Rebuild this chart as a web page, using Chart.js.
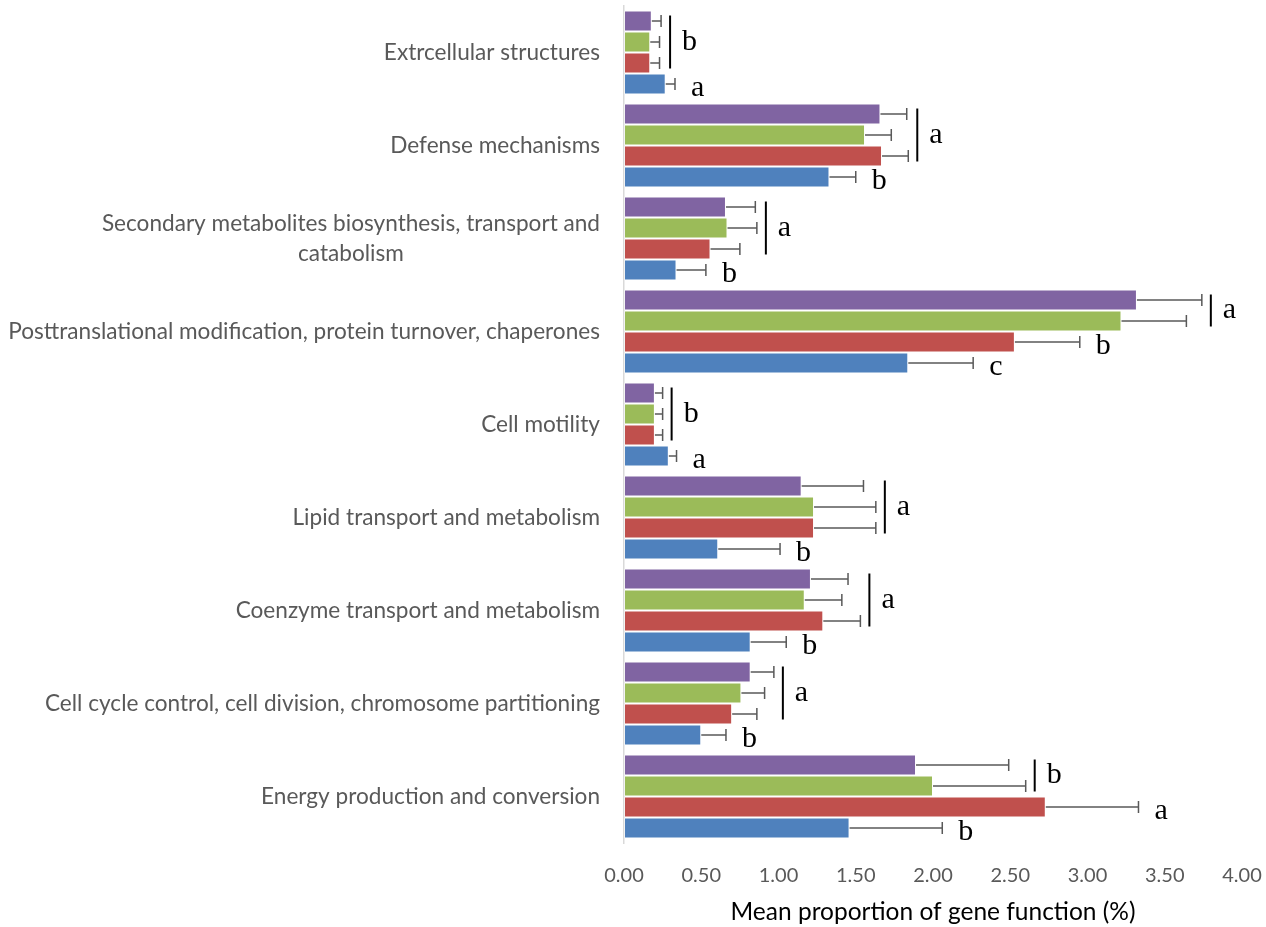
<!DOCTYPE html>
<html>
<head>
<meta charset="utf-8">
<script src="https://cdn.jsdelivr.net/npm/chart.js@4/dist/chart.umd.min.js"></script>
<style>
  html, body { margin: 0; padding: 0; background: #ffffff; }
  #wrap { width: 1266px; height: 927px; position: relative; }
</style>
</head>
<body>
<div id="wrap"><canvas id="chart" width="1266" height="927"></canvas></div>
<script>
// COG functional categories, listed top to bottom
const categories = [
  'Extrcellular structures',
  'Defense mechanisms',
  ['Secondary metabolites biosynthesis, transport and', 'catabolism'],
  'Posttranslational modification, protein turnover, chaperones',
  'Cell motility',
  'Lipid transport and metabolism',
  'Coenzyme transport and metabolism',
  'Cell cycle control, cell division, chromosome partitioning',
  'Energy production and conversion'
];

const xTicks = [0, 0.5, 1, 1.5, 2, 2.5, 3, 3.5, 4];

// Mean proportion (%) per group
const meanT1 = [0.27, 1.33, 0.34, 1.84, 0.29, 0.61, 0.82, 0.50, 1.46];
const meanT2 = [0.17, 1.67, 0.56, 2.53, 0.20, 1.23, 1.29, 0.70, 2.73];
const meanT3 = [0.17, 1.56, 0.67, 3.22, 0.20, 1.23, 1.17, 0.76, 2.00];
const meanT4 = [0.18, 1.66, 0.66, 3.32, 0.20, 1.15, 1.21, 0.82, 1.89];

// Error (+) per group
const errT1 = [0.06, 0.17, 0.19, 0.42, 0.05, 0.40, 0.23, 0.16, 0.60];
const errT2 = [0.06, 0.17, 0.19, 0.42, 0.05, 0.40, 0.24, 0.16, 0.60];
const errT3 = [0.06, 0.17, 0.19, 0.42, 0.05, 0.40, 0.24, 0.15, 0.60];
const errT4 = [0.06, 0.17, 0.19, 0.42, 0.05, 0.40, 0.24, 0.15, 0.60];

// Significance letters per group
const lettersT1 = ['a', 'b', 'b', 'c', 'a', 'b', 'b', 'b', 'b'];
const lettersT2 = ['b', 'a', 'a', 'b', 'b', 'a', 'a', 'a', 'a'];
const lettersT3 = ['b', 'a', 'a', 'a', 'b', 'a', 'a', 'a', 'b'];
const lettersT4 = ['b', 'a', 'a', 'a', 'b', 'a', 'a', 'a', 'b'];

const axisTitle = 'Mean proportion of gene function (%)';

// Drawn top to bottom inside each category
const groups = [
  { label: 'T4', mean: meanT4, err: errT4, letters: lettersT4, color: '#8064A2' },
  { label: 'T3', mean: meanT3, err: errT3, letters: lettersT3, color: '#9BBB59' },
  { label: 'T2', mean: meanT2, err: errT2, letters: lettersT2, color: '#C0504D' },
  { label: 'T1', mean: meanT1, err: errT1, letters: lettersT1, color: '#4F81BD' }
];

const LABEL_FONT = 'Lato';
const LETTER_FONT = '"Liberation Serif", "Times New Roman", serif';

// Horizontal error bars with an end cap
const errorBars = {
  id: 'errorBars',
  afterDatasetsDraw(chart) {
    const { ctx, scales: { x } } = chart;
    ctx.save();
    ctx.strokeStyle = '#595959';
    ctx.lineWidth = 1.5;
    chart.data.datasets.forEach((ds, di) => {
      const meta = chart.getDatasetMeta(di);
      meta.data.forEach((bar, i) => {
        const end = x.getPixelForValue(ds.data[i] + ds.errors[i]);
        ctx.beginPath();
        ctx.moveTo(bar.x, bar.y);
        ctx.lineTo(end, bar.y);
        ctx.moveTo(end, bar.y - 6);
        ctx.lineTo(end, bar.y + 6);
        ctx.stroke();
      });
    });
    ctx.restore();
  }
};

// Significance letters; adjacent bars sharing a letter are joined by a bracket line
const significance = {
  id: 'significance',
  afterDatasetsDraw(chart) {
    const { ctx, scales: { x } } = chart;
    const sets = chart.data.datasets;
    ctx.save();
    ctx.fillStyle = '#000000';
    ctx.strokeStyle = '#000000';
    ctx.lineWidth = 2;
    ctx.font = '30px ' + LETTER_FONT;
    ctx.textBaseline = 'middle';
    ctx.textAlign = 'left';
    categories.forEach((_, i) => {
      let d = 0;
      while (d < sets.length) {
        let e = d;
        while (e + 1 < sets.length && sets[e + 1].letters[i] === sets[d].letters[i]) e++;
        let maxEnd = -Infinity;
        for (let k = d; k <= e; k++) {
          maxEnd = Math.max(maxEnd, x.getPixelForValue(sets[k].data[i] + sets[k].errors[i]));
        }
        const first = chart.getDatasetMeta(d).data[i];
        const last = chart.getDatasetMeta(e).data[i];
        const letter = sets[d].letters[i];
        if (e > d) {
          const top = first.y - first.height / 2 + 5;
          const bottom = last.y + last.height / 2 - 5;
          const lx = maxEnd + 9;
          ctx.beginPath();
          ctx.moveTo(lx, top);
          ctx.lineTo(lx, bottom);
          ctx.stroke();
          ctx.fillText(letter, lx + 12, (top + bottom) / 2);
        } else {
          ctx.fillText(letter, maxEnd + 16, first.y + 4);
        }
        d = e + 1;
      }
    });
    ctx.restore();
  }
};

// Category labels: right-aligned block, wrapped lines centred within it
const categoryLabels = {
  id: 'categoryLabels',
  afterDraw(chart) {
    const { ctx, scales: { y } } = chart;
    const right = y.right - 24;
    const lineH = 30;
    ctx.save();
    ctx.fillStyle = '#595959';
    ctx.font = '22.6px ' + LABEL_FONT;
    ctx.textBaseline = 'middle';
    ctx.textAlign = 'center';
    categories.forEach((lab, i) => {
      const lines = Array.isArray(lab) ? lab : [lab];
      const w = Math.max(...lines.map(l => ctx.measureText(l).width));
      const cx = right - w / 2;
      const cy = y.getPixelForTick(i);
      lines.forEach((l, k) => {
        ctx.fillText(l, cx, cy + (k - (lines.length - 1) / 2) * lineH);
      });
    });
    ctx.restore();
  }
};

new Chart(document.getElementById('chart'), {
  type: 'bar',
  data: {
    labels: categories,
    datasets: groups.map(g => ({
      label: g.label,
      data: g.mean,
      errors: g.err,
      letters: g.letters,
      backgroundColor: g.color,
      borderColor: 'rgba(255,255,255,0.35)',
      borderWidth: 1,
      borderSkipped: false,
      categoryPercentage: 0.903,
      barPercentage: 1.0
    }))
  },
  options: {
    indexAxis: 'y',
    responsive: false,
    animation: false,
    layout: { padding: { top: 6, right: 24, bottom: 0, left: 0 } },
    plugins: { legend: { display: false }, tooltip: { enabled: false } },
    scales: {
      x: {
        min: 0,
        max: 4,
        afterBuildTicks: s => { s.ticks = xTicks.map(v => ({ value: v })); },
        ticks: {
          callback: v => Number(v).toFixed(2),
          color: '#595959',
          font: { family: LABEL_FONT, size: 20 },
          padding: 21,
          maxRotation: 0
        },
        grid: { display: false, drawTicks: false },
        border: { display: false },
        title: {
          display: true,
          text: axisTitle,
          color: '#000000',
          font: { family: LABEL_FONT, size: 24.5 },
          padding: { top: 0, bottom: 0 }
        },
        afterFit: s => {
          s.height = 84;
          s.paddingLeft = 0;
          s.paddingRight = 0;
        }
      },
      y: {
        ticks: { display: false },
        grid: { display: false, drawTicks: false },
        border: { display: true, color: '#d9d9d9', width: 1.5 },
        afterFit: s => { s.width = 624; }
      }
    }
  },
  plugins: [errorBars, significance, categoryLabels]
});
</script>
</body>
</html>
